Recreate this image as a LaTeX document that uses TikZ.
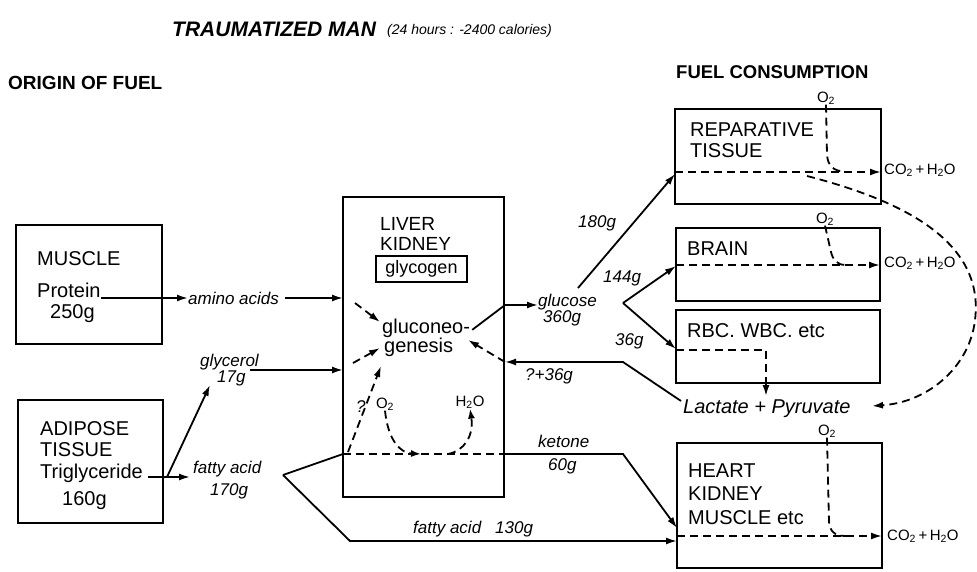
\documentclass[tikz,border=0pt]{standalone}
\usepackage{fontspec}
\setmainfont{Liberation Sans}
\usetikzlibrary{arrows.meta}
\begin{document}
\begin{tikzpicture}[x=1pt,y=-1pt,
  box/.style={draw, line width=2pt, inner sep=0pt, outer sep=0pt, anchor=north west},
  lbl/.style={inner sep=0pt, anchor=base west, font=\fontsize{20}{21}\selectfont},
  itl/.style={inner sep=0pt, anchor=base west, font=\fontsize{17}{18}\selectfont\itshape},
  gas/.style={inner sep=0pt, font=\fontsize{15}{16}\selectfont},
  ln/.style={line width=1.8pt},
  tip/.style={-{Latex[length=11pt,width=7pt]}},
  arr/.style={ln, tip},
  dsh/.style={ln, dash pattern=on 8pt off 5pt},
]
\useasboundingbox (0,0) rectangle (977,572);

% headings
\node[inner sep=0pt, anchor=west, font=\fontsize{21}{24}\selectfont\bfseries\itshape] (title) at (172,29) {TRAUMATIZED MAN};
\node[inner sep=0pt, anchor=west, font=\fontsize{14}{16}\selectfont\itshape] (sub) at (387,31) {(24 hours : -2400 calories)};
\node[inner sep=0pt, anchor=west, font=\fontsize{19}{21}\selectfont\bfseries] (origin) at (8,83) {ORIGIN OF FUEL};
\node[inner sep=0pt, anchor=west, font=\fontsize{18.5}{21}\selectfont\bfseries] (consum) at (676,72) {FUEL CONSUMPTION};

% boxes
\node[box, minimum width=146pt, minimum height=119pt] (muscle) at (16,225) {};
\node[box, minimum width=145pt, minimum height=123pt] (adipose) at (18,400) {};
\node[box, minimum width=161pt, minimum height=300pt] (liver) at (343,197) {};
\node[draw, line width=1.5pt, inner sep=0pt, minimum width=91pt, minimum height=26pt, font=\fontsize{18}{19}\selectfont] (glycogen) at (421.5,269) {glycogen};
\node[box, minimum width=206pt, minimum height=95pt] (repar) at (675,109) {};
\node[box, minimum width=204pt, minimum height=73pt] (brain) at (676,228) {};
\node[box, minimum width=204pt, minimum height=73pt] (rbc) at (676,310) {};
\node[box, minimum width=205pt, minimum height=125pt] (heart) at (677,443) {};

% box texts
\node[lbl] (mus1) at (37,265) {MUSCLE};
\node[lbl] (mus2) at (37,297) {Protein};
\node[lbl] (mus3) at (50,318) {250g};
\node[lbl] (adi1) at (40,435) {ADIPOSE};
\node[lbl] (adi2) at (40,456) {TISSUE};
\node[lbl] (adi3) at (40,478) {Triglyceride};
\node[lbl] (adi4) at (62,505) {160g};
\node[lbl, font=\fontsize{19}{20}\selectfont] (liv1) at (380,231) {LIVER};
\node[lbl, font=\fontsize{19}{20}\selectfont] (liv2) at (380,251) {KIDNEY};
\node[lbl] (gluc1) at (382,333) {gluconeo-};
\node[lbl] (gluc2) at (384,352) {genesis};
\node[lbl] (rep1) at (690,137) {REPARATIVE};
\node[lbl] (rep2) at (690,158) {TISSUE};
\node[lbl] (bra1) at (687,255) {BRAIN};
\node[lbl] (rbc1) at (687,337) {RBC. WBC. etc};
\node[lbl] (hea1) at (688,477) {HEART};
\node[lbl] (hea2) at (688,500) {KIDNEY};
\node[lbl] (hea3) at (688,524) {MUSCLE etc};

% italic labels
\node[itl, anchor=west] (amino) at (188,298) {amino acids};
\node[itl] (glyc) at (200,366) {glycerol};
\node[itl] (glyc2) at (217,382) {17g};
\node[itl] (fa) at (193,473) {fatty acid};
\node[itl] (fa2) at (210,495) {170g};
\node[itl] (ket) at (538,447) {ketone};
\node[itl] (ket2) at (548,470) {60g};
\node[itl] (fa130) at (413,533) {fatty acid\hspace{14pt}130g};
\node[itl] (glucose) at (538,306) {glucose};
\node[itl] (glucose2) at (543,322) {360g};
\node[itl] (g180) at (578,227) {180g};
\node[itl] (g144) at (603,282) {144g};
\node[itl] (g36) at (615,345) {36g};
\node[itl] (q36) at (525,380) {?+36g};
\node[itl] (qm) at (356,412) {?};
\node[itl, font=\fontsize{20}{21}\selectfont\itshape] (lac) at (683,413) {Lactate + Pyruvate};

% gas labels
\node[gas] (o2l) at (385,404) {O\textsubscript{2}};
\node[gas] (h2ol) at (470,402) {H\textsubscript{2}O};
\node[gas] (o2r) at (826,98) {O\textsubscript{2}};
\node[gas] (o2b) at (825,219) {O\textsubscript{2}};
\node[gas] (o2h) at (827,431) {O\textsubscript{2}};
\node[gas, anchor=west] (cor) at (884,170) {CO\textsubscript{2}\,+\,H\textsubscript{2}O};
\node[gas, anchor=west] (cob) at (884,263) {CO\textsubscript{2}\,+\,H\textsubscript{2}O};
\node[gas, anchor=west] (coh) at (887,536) {CO\textsubscript{2}\,+\,H\textsubscript{2}O};

% coordinates
\coordinate (ai) at (355,303);
\coordinate (aiT) at (380,322);
\coordinate (gi) at (353,363);
\coordinate (giT) at (380,348);
\coordinate (V) at (623,303);
\coordinate (glx) at (505,305);
\coordinate (lacK) at (623,362);
\coordinate (lacE) at (505,362);
\coordinate (lacT) at (468,340);
\coordinate (faV) at (283,475);
\coordinate (ketK) at (623,454);
\coordinate (fabK) at (350,541);

% left side arrows
\draw[arr] (mus2.east |- amino.west) -- (amino.west);
\draw[arr, shorten <=6pt] (amino.east) -- (amino.east -| liver.west);
\draw[dsh, tip] (ai) -- (aiT);
\draw[arr] (250,370) -- (343,370);
\draw[dsh, tip] (gi) -- (giT);
\draw[arr] (148,477) -- (190,477);
\draw[arr] (167,477) -- (210,385);

% fatty acid paths
\draw[ln] (faV) -- (343,454);
\draw[dsh] (343,454) -- (504,454);
\draw[arr] (504,454) -- (ketK) -- (heart.west |- 0,528);
\draw[arr] (faV) -- (fabK) -- (heart.west |- fabK);

% inside liver
\draw[dsh, tip] (348,452) -- (381,366);
\draw[dsh, -{Latex[length=10pt,width=7pt]}] (o2l.south) .. controls (388,440) and (400,453) .. (421,454);
\draw[dsh, -{Latex[length=10pt,width=7pt]}] (448,454) .. controls (464,451) and (474,436) .. (h2ol.south);

% glucose
\draw[arr] ([xshift=2pt,yshift=-2pt]gluc1.east) -- (glx) -- (glucose.west |- glx);
\draw[arr] (578,288) -- (675,174);
\draw[arr] (V) -- (brain.west |- 0,266);
\draw[arr] (V) -- (rbc.west |- 0,349);

% lactate return
\draw[arr] (681,401) -- (lacK) -- (lacE);
\draw[dsh, tip] (lacE) -- (lacT);
\draw[dsh, tip] (rbc.west |- 0,350) -- (766,350) -- (766,396);

% consumption
\draw[dsh, tip] (repar.west |- 0,172) -- (repar.east |- 0,172);
\draw[dsh] (o2r.south) -- (827,155) .. controls (828,166) and (833,171) .. (846,172);
\draw[dsh, tip] (brain.west |- 0,265) -- (brain.east |- 0,265);
\draw[dsh] (o2b.south) -- (831,252) .. controls (833,260) and (837,265) .. (846,265);
\draw[dsh, tip] (heart.west |- 0,536) -- (heart.east |- 0,536);
\draw[dsh] (o2h.south) -- (829,522) .. controls (830,531) and (834,536) .. (846,536);

% big dashed loop
\draw[dsh, tip] (807,176) .. controls (900,200) and (985,240) .. (975,320) .. controls (970,365) and (930,402) .. (872,406);
\end{tikzpicture}
\end{document}
